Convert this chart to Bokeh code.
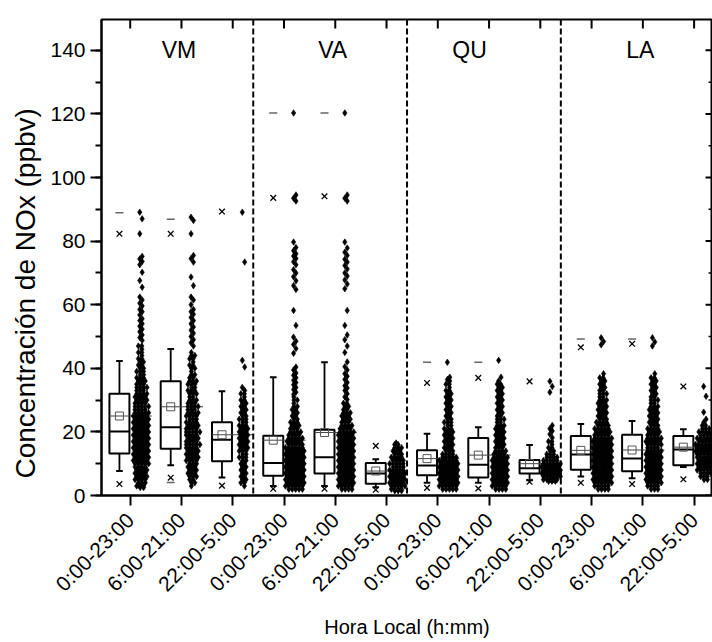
import math
from bokeh.plotting import figure
from bokeh.models import Range1d, FixedTicker, SingleIntervalTicker, Span, ColumnDataSource, Title
from bokeh.core.properties import value
from bokeh.embed import file_html
from bokeh.resources import INLINE

FONT = "Liberation Sans"
NaN = float("nan")

# ---------------- categories ----------------
sites = ["VM", "VA", "QU", "LA"]
site_label_x = [1.95, 4.95, 7.62, 10.95]
site_label_y = [140, 140, 140, 140]
tick_labels = ["0:00-23:00", "6:00-21:00", "22:00-5:00",
               "0:00-23:00", "6:00-21:00", "22:00-5:00",
               "0:00-23:00", "6:00-21:00", "22:00-5:00",
               "0:00-23:00", "6:00-21:00", "22:00-5:00"]
cat_pos = [1, 2, 3, 4, 5, 6, 7, 8, 9, 10, 11, 12]
separators = [3.4, 6.4, 9.4]
y_major = [0, 20, 40, 60, 80, 100, 120, 140]
y_minor = [10, 30, 50, 70, 90, 110, 130]

# ---------------- box statistics (ppbv) ----------------
p_min  = [NaN, 4.1, NaN, NaN, NaN, NaN, NaN, NaN, NaN, NaN, NaN, NaN]
p01    = [3.6, 5.6, 3.1, 2.1, 2.1, 1.8, 2.4, 2.2, 4.3, 4.0, 3.6, 5.1]
w_lo   = [7.7, 9.5, 5.7, 3.0, 3.0, 2.6, 4.0, 4.0, 4.8, 6.0, 5.4, 9.0]
q1     = [13.2, 14.7, 10.8, 6.2, 6.9, 3.7, 6.4, 5.7, 6.9, 8.1, 7.6, 9.5]
median = [20.1, 21.5, 17.5, 10.2, 12.0, 6.9, 9.4, 9.7, 8.6, 12.9, 11.6, 14.5]
mean   = [25.0, 27.9, 19.1, 17.4, 19.8, 7.7, 11.6, 12.7, 10.0, 14.2, 14.3, 15.2]
q3     = [32.0, 35.9, 23.0, 18.8, 20.7, 10.2, 14.2, 18.1, 11.2, 18.7, 19.1, 18.7]
w_hi   = [42.3, 46.1, 32.8, 37.2, 41.9, 11.4, 19.4, 21.5, 15.9, 22.5, 23.4, 20.8]
p99    = [82.3, 82.3, 89.3, 93.6, 94.1, 15.6, 35.4, 37.0, 35.9, 46.6, 47.7, 34.3]
p_max  = [88.9, 86.9, NaN, 120.3, 120.3, NaN, 41.9, 41.9, NaN, 49.2, 49.2, NaN]

# ---------------- individual data points ----------------
# sparse points (one each) and dense levels (value, number of overlapping points)
vm_0023_pts = [89.1, 87.0, 82.3, 75.2, 74.4, 73.6, 72.6, 70.2, 67.6, 65.5, 62.4, 61.5, 60.5,
               59.6, 58.5, 57.8, 56.8, 55.6, 55.0, 54.0, 53.2, 52.3, 51.5, 50.5, 49.7, 48.8]
vm_0023_lev = [47, 46, 45, 44, 43, 42, 41, 40, 39, 38, 37, 36, 35, 34, 33, 32, 31, 30, 29, 28,
               27, 26, 25, 24, 23, 22, 21, 20, 19, 18, 17, 16, 15, 14, 13, 12, 11, 10, 9, 8,
               7, 6, 5, 4, 3, 2.5]
vm_0023_cnt = [2, 1, 2, 1, 2, 2, 2, 2, 3, 2, 3, 3, 3, 4, 3, 4, 4, 4, 4, 5,
               4, 5, 5, 5, 5, 5, 5, 5, 5, 5, 5, 5, 5, 5, 5, 5, 5, 5, 4, 4,
               4, 4, 4, 3, 3, 2]

vm_0621_pts = [87.5, 86.5, 82.3, 75.5, 74.5, 73.4, 68.7, 66.0, 62.4, 61.5, 60.0, 58.5, 57.8,
               57.0, 56.0, 55.0, 54.0, 53.0, 52.0, 51.0, 50.0, 49.0, 48.0, 47.0]
vm_0621_lev = [45, 44, 43, 42, 41, 40, 39, 38, 37, 36, 35, 34, 33, 32, 31, 30, 29, 28, 27, 26,
               25, 24, 23, 22, 21, 20, 19, 18, 17, 16, 15, 14, 13, 12, 11, 10, 9, 8, 7, 6,
               5, 4, 3]
vm_0621_cnt = [1, 2, 2, 1, 2, 2, 1, 2, 2, 3, 3, 2, 3, 3, 2, 3, 3, 4, 3, 4,
               4, 3, 4, 4, 4, 5, 4, 4, 4, 5, 4, 4, 4, 4, 4, 3, 3, 3, 3, 3,
               2, 2, 1]

vm_2205_pts = [89.1, 73.4, 42.5, 40.4, 34.0, 33.0]
vm_2205_lev = [32, 31, 30, 29, 28, 27, 26, 25, 24, 23, 22, 21, 20, 19, 18, 17, 16, 15, 14, 13,
               12, 11, 10, 9, 8, 7, 6, 5, 4, 3]
vm_2205_cnt = [2, 1, 2, 2, 2, 2, 2, 2, 3, 2, 3, 3, 3, 3, 3, 3, 3, 3, 3, 2,
               3, 2, 2, 2, 2, 2, 2, 2, 2, 1]

va_0023_pts = [120.3, 94.5, 93.5, 92.6, 79.7, 78.0, 77.0, 76.0, 75.3, 74.5, 73.5, 72.6, 71.0,
               70.0, 68.8, 67.5, 66.0, 64.8, 58.2, 53.5, 49.8, 48.5, 47.5, 46.2, 44.7, 40.4,
               39.5, 38.5, 37.8, 37.0, 36.2, 35.5, 34.8, 34.0, 33.3, 32.5, 31.8]
va_0023_lev = [31, 30, 29, 28, 27, 26, 25, 24, 23, 22, 21, 20, 19, 18, 17, 16, 15, 14, 13, 12,
               11, 10, 9, 8, 7, 6, 5, 4, 3, 2]
va_0023_cnt = [1, 2, 1, 2, 2, 2, 2, 2, 3, 3, 3, 4, 4, 5, 5, 5, 6, 6, 6, 6,
               6, 6, 6, 6, 6, 6, 6, 6, 6, 5]

va_0621_pts = [120.3, 94.5, 93.5, 92.6, 79.7, 77.8, 76.5, 75.5, 74.3, 73.4, 72.3, 71.2, 70.0,
               69.0, 67.8, 66.5, 65.0, 58.2, 53.5, 50.5, 49.0, 47.0, 45.0, 42.0, 40.5, 39.5,
               38.3, 37.5, 36.5, 35.5, 34.5, 33.8, 33.0, 32.0, 31.0, 30.2]
va_0621_lev = [29, 28, 27, 26, 25, 24, 23, 22, 21, 20, 19, 18, 17, 16, 15, 14, 13, 12, 11, 10,
               9, 8, 7, 6, 5, 4, 3, 2]
va_0621_cnt = [2, 2, 2, 3, 3, 3, 3, 4, 4, 5, 5, 5, 5, 5, 5, 5, 5, 5, 5, 5,
               5, 5, 5, 5, 5, 5, 5, 4]

va_2205_pts = [16.5]
va_2205_lev = [16, 15, 14, 13, 12, 11, 10, 9, 8, 7, 6, 5, 4, 3, 2, 1.5]
va_2205_cnt = [2, 3, 3, 3, 4, 4, 5, 4, 5, 5, 5, 5, 5, 5, 4, 3]

qu_0023_pts = [41.9, 37.2, 36.5, 36.0]
qu_0023_lev = [35, 34, 33, 32, 31, 30, 29, 28, 27, 26, 25, 24, 23, 22, 21, 20, 19, 18, 17, 16,
               15, 14, 13, 12, 11, 10, 9, 8, 7, 6, 5, 4, 3, 2]
qu_0023_cnt = [2, 1, 2, 2, 2, 2, 2, 2, 2, 2, 2, 2, 3, 2, 3, 3, 3, 3, 3, 3,
               3, 3, 4, 5, 6, 6, 6, 6, 6, 6, 6, 6, 6, 5]

qu_0621_pts = [42.5, 37.2, 36.0]
qu_0621_lev = [35, 34, 33, 32, 31, 30, 29, 28, 27, 26, 25, 24, 23, 22, 21, 20, 19, 18, 17, 16,
               15, 14, 13, 12, 11, 10, 9, 8, 7, 6, 5, 4, 3, 2]
qu_0621_cnt = [2, 2, 2, 2, 2, 2, 2, 2, 2, 2, 2, 3, 2, 3, 3, 3, 3, 3, 3, 3,
               3, 4, 4, 5, 5, 5, 5, 5, 5, 5, 5, 5, 5, 4]

qu_2205_pts = [35.9, 34.3, 32.5, 22.0, 21.0, 20.3, 19.3, 18.2]
qu_2205_lev = [17, 16, 15, 14, 13, 12, 11, 10, 9, 8, 7, 6, 5, 4.5]
qu_2205_cnt = [2, 1, 2, 2, 3, 4, 5, 6, 6, 6, 6, 6, 5, 3]

la_0023_pts = [49.6, 48.4, 47.4, 38.3]
la_0023_lev = [37, 36, 35, 34, 33, 32, 31, 30, 29, 28, 27, 26, 25, 24, 23, 22, 21, 20, 19, 18,
               17, 16, 15, 14, 13, 12, 11, 10, 9, 8, 7, 6, 5, 4, 3, 2]
la_0023_cnt = [2, 2, 2, 2, 2, 3, 2, 3, 3, 3, 3, 3, 3, 3, 4, 4, 5, 5, 5, 6,
               6, 6, 6, 6, 6, 6, 6, 6, 6, 6, 6, 6, 6, 6, 5, 4]

la_0621_pts = [49.6, 48.3, 47.0, 38.3]
la_0621_lev = [37, 36, 35, 34, 33, 32, 31, 30, 29, 28, 27, 26, 25, 24, 23, 22, 21, 20, 19, 18,
               17, 16, 15, 14, 13, 12, 11, 10, 9, 8, 7, 6, 5, 4, 3, 2]
la_0621_cnt = [2, 2, 2, 2, 2, 2, 2, 3, 2, 3, 3, 3, 3, 3, 3, 3, 4, 4, 4, 5,
               5, 5, 4, 5, 5, 5, 5, 5, 5, 5, 5, 5, 5, 5, 4, 3]

la_2205_pts = [34.3, 31.2, 26.2, 24.0, 23.0]
la_2205_lev = [22, 21, 20, 19, 18, 17, 16, 15, 14, 13, 12, 11, 10, 9, 8, 7, 6, 5]
la_2205_cnt = [2, 3, 4, 4, 5, 5, 6, 6, 6, 6, 5, 5, 5, 5, 5, 4, 3, 2]

columns = [
    (vm_0023_pts, vm_0023_lev, vm_0023_cnt), (vm_0621_pts, vm_0621_lev, vm_0621_cnt),
    (vm_2205_pts, vm_2205_lev, vm_2205_cnt), (va_0023_pts, va_0023_lev, va_0023_cnt),
    (va_0621_pts, va_0621_lev, va_0621_cnt), (va_2205_pts, va_2205_lev, va_2205_cnt),
    (qu_0023_pts, qu_0023_lev, qu_0023_cnt), (qu_0621_pts, qu_0621_lev, qu_0621_cnt),
    (qu_2205_pts, qu_2205_lev, qu_2205_cnt), (la_0023_pts, la_0023_lev, la_0023_cnt),
    (la_0621_pts, la_0621_lev, la_0621_cnt), (la_2205_pts, la_2205_lev, la_2205_cnt),
]

# ---------------- geometry ----------------
W, H = 712, 642
LEFT, TOP, BOTTOM = 97, 19, 147
X_START = 0.44
PX_X = 51.6                      # pixels per category step
FRAME_W = W - LEFT
FRAME_H = H - TOP - BOTTOM
X_END = X_START + FRAME_W / PX_X
Y_END = 149.7
PX_Y = FRAME_H / Y_END
BOX_L, BOX_R = -0.405, -0.015
SCAT_C = 0.21
CAP = 0.065
STEP = 3.4                       # px between overlapping points in a level
MK = 6.5                         # marker size

p = figure(width=W, height=H, output_backend="svg", toolbar_location=None,
           x_range=Range1d(X_START, X_END), y_range=Range1d(0, Y_END),
           min_border_left=LEFT, min_border_right=0, min_border_top=TOP, min_border_bottom=BOTTOM,
           background_fill_color="white", border_fill_color="white")
p.outline_line_color = "black"
p.outline_line_width = 2
p.xgrid.visible = False
p.ygrid.visible = False

# separators
for s in separators:
    p.add_layout(Span(location=s, dimension="height", line_color="black",
                      line_width=2, line_dash="6 3"))

# inward ticks on top and right frame edges
tk = 9 / PX_Y
p.segment(x0=cat_pos, y0=[Y_END] * 12, x1=cat_pos, y1=[Y_END - tk] * 12,
          line_color="black", line_width=2)
p.segment(x0=[X_END] * len(y_major), y0=y_major, x1=[X_END - 7 / PX_X] * len(y_major), y1=y_major,
          line_color="black", line_width=2)
p.segment(x0=[X_END] * len(y_minor), y0=y_minor, x1=[X_END - 4 / PX_X] * len(y_minor), y1=y_minor,
          line_color="black", line_width=1.5)

# boxes
bx = [c + (BOX_L + BOX_R) / 2 for c in cat_pos]
box_src = ColumnDataSource(dict(
    left=[c + BOX_L for c in cat_pos], right=[c + BOX_R for c in cat_pos],
    q1=q1, q3=q3, med=median, mean=mean, wlo=w_lo, whi=w_hi,
    bx=bx, capl=[b - CAP for b in bx], capr=[b + CAP for b in bx],
    mline_r=[c + 0.42 for c in cat_pos],
    p01=p01, p99=p99, pmin=p_min, pmax=p_max))

p.segment(x0="bx", y0="q3", x1="bx", y1="whi", source=box_src, line_color="black", line_width=1.8)
p.segment(x0="bx", y0="q1", x1="bx", y1="wlo", source=box_src, line_color="black", line_width=1.8)
p.segment(x0="capl", y0="whi", x1="capr", y1="whi", source=box_src, line_color="black", line_width=2)
p.segment(x0="capl", y0="wlo", x1="capr", y1="wlo", source=box_src, line_color="black", line_width=2)
p.quad(left="left", right="right", bottom="q1", top="q3", source=box_src,
       fill_color="white", line_color="black", line_width=2)
p.segment(x0="left", y0="med", x1="right", y1="med", source=box_src, line_color="black", line_width=2)
p.segment(x0="left", y0="mean", x1="mline_r", y1="mean", source=box_src, line_color="#444444", line_width=1)

# data points
xs, ys = [], []
for c, (pts, lev, cnt) in zip(cat_pos, columns):
    center = c + SCAT_C
    for r, v in enumerate(pts):
        off = 1.2 if r % 2 else -1.2
        xs.append(center + off / PX_X)
        ys.append(v)
    for r, (v, n) in enumerate(zip(lev, cnt)):
        sh = 0.9 if r % 2 else -0.9
        for k in range(n):
            off = (k - (n - 1) / 2) * STEP + sh
            xs.append(center + off / PX_X)
            ys.append(v)
p.scatter(xs, ys, marker="diamond", size=MK, fill_color="black", line_color="black", line_width=0.6)

# mean squares, percentiles, extremes
p.scatter(x="bx", y="mean", source=box_src, marker="square", size=8,
          fill_color=None, line_color="#555555", line_width=1)
p.scatter(x="bx", y="p01", source=box_src, marker="x", size=8, line_color="black", line_width=1.3)
p.scatter(x="bx", y="p99", source=box_src, marker="x", size=8, line_color="black", line_width=1.3)
p.scatter(x="bx", y="pmin", source=box_src, marker="dash", size=8, line_color="#666666", line_width=1.5)
p.scatter(x="bx", y="pmax", source=box_src, marker="dash", size=8, line_color="#666666", line_width=1.5)

# group labels
p.text(x=site_label_x, y=site_label_y, text=sites, text_font=value(FONT), text_font_size="23px",
       text_align="center", text_baseline="middle", text_color="black")

# axes
xa = p.xaxis[0]
xa.ticker = FixedTicker(ticks=cat_pos)
xa.major_label_overrides = {c: t for c, t in zip(cat_pos, tick_labels)}
xa.major_label_orientation = math.pi / 4
xa.major_tick_out = 10
xa.major_tick_in = 0
xa.minor_tick_out = 0
xa.axis_line_width = 2
xa.major_tick_line_width = 2
xa.major_label_text_font = FONT
xa.major_label_text_font_size = "21px"
xa.major_label_text_color = "black"
xa.major_label_standoff = 11
xa.axis_label = "Hora Local (h:mm)"
xa.axis_label_text_font = FONT
xa.axis_label_text_font_size = "20px"
xa.axis_label_text_font_style = "normal"
xa.axis_label_text_color = "black"
xa.axis_label_standoff = 9

ya = p.yaxis[0]
ya.ticker = SingleIntervalTicker(interval=20, num_minor_ticks=2)
ya.major_tick_out = 11
ya.major_tick_in = 0
ya.minor_tick_out = 6
ya.minor_tick_in = 0
ya.axis_line_width = 2
ya.major_tick_line_width = 2
ya.minor_tick_line_width = 2
ya.major_label_text_font = FONT
ya.major_label_text_font_size = "21px"
ya.major_label_text_color = "black"
ya.major_label_standoff = 5

# y-axis title, placed as in the reference (starting near the bottom of the frame)
p.add_layout(Title(text="Concentración de NOx (ppbv)", align="left", offset=17,
                   text_font=FONT, text_font_size="28px", text_font_style="normal",
                   text_color="black", standoff=14), "left")

open("out.html", "w").write(file_html(p, INLINE))
